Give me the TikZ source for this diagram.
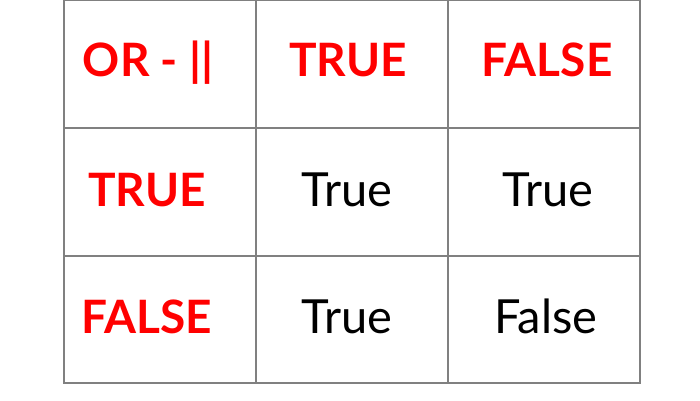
\documentclass[tikz,border=0pt]{standalone}
\usepackage{fontspec}
\setmainfont{Lato}
\begin{document}
\begin{tikzpicture}[x=1pt,y=-1pt,
  grid/.style={draw=black!50,line width=1.3pt},
  head/.style={anchor=base,inner sep=0pt,text=red,font=\fontsize{46}{50}\selectfont\bfseries},
  val/.style={anchor=base,inner sep=0pt,text=black,font=\fontsize{47}{50}\selectfont}]
\useasboundingbox (0,0) rectangle (700,400);
\fill[white] (0,0) rectangle (700,400);
\draw[grid] (64,0.6) rectangle (640,383);
\draw[grid] (256,0) -- (256,383) (448,0) -- (448,383);
\draw[grid] (64,128) -- (640,128) (64,256) -- (640,256);
\node[head] (h0) at (148,76) {OR - ||};
\node[head] (h1) at (348,76) {TRUE};
\node[head] (h2) at (547,76) {FALSE};
\node[head] (r1) at (147,206) {TRUE};
\node[val] (c11) at (347,206) {True};
\node[val] (c12) at (548,206) {True};
\node[head] (r2) at (146.5,333) {FALSE};
\node[val] (c21) at (347,333) {True};
\node[val] (c22) at (546,333) {False};
\end{tikzpicture}
\end{document}
